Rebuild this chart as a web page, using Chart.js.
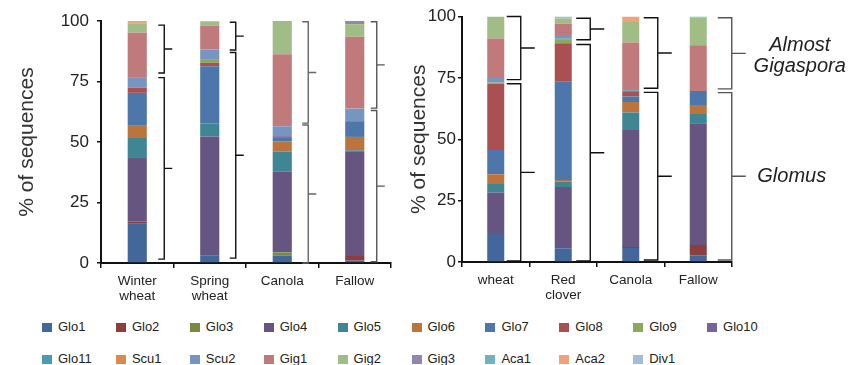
<!DOCTYPE html>
<html>
<head>
<meta charset="utf-8">
<script src="https://cdn.jsdelivr.net/npm/chart.js@4/dist/chart.umd.min.js"></script>
<style>
  html, body { margin: 0; padding: 0; background: #fff; }
  body { width: 852px; height: 365px; position: relative; overflow: hidden; font-family: "Liberation Sans", Arial, sans-serif; }
  #leftChart { position: absolute; left: 0; top: 0; }
  #rightChart { position: absolute; left: 395px; top: 0; }
  .lg-item { position: absolute; height: 16px; white-space: nowrap; }
  .lg-box { position: absolute; left: 0; top: 3px; width: 10px; height: 9px; }
  .lg-text { position: absolute; left: 16px; top: -1px; font-size: 13px; line-height: 16px; color: #222; }
</style>
</head>
<body>
<canvas id="leftChart" width="400" height="305"></canvas>
<canvas id="rightChart" width="457" height="305"></canvas>
<div id="legend"></div>
<script>
// ---- data ----
const seriesNames = ['Glo1', 'Glo2', 'Glo3', 'Glo4', 'Glo5', 'Glo6', 'Glo7', 'Glo8', 'Glo9', 'Glo10',
    'Glo11', 'Scu1', 'Scu2', 'Gig1', 'Gig2', 'Gig3', 'Aca1', 'Aca2', 'Div1'];
const seriesColors = ['#43679a', '#8c3d3e', '#768a40', '#655580', '#3f8695', '#bb743c', '#4d77ab', '#ab5052', '#8ca95b', '#78649b',
    '#4a9bb1', '#da8a4d', '#7695c0', '#c17a7b', '#a1bd86', '#9386ae', '#70b2c3', '#f1a17b', '#a7bad7'];

const leftCategories = [['Winter', 'wheat'], ['Spring', 'wheat'], 'Canola', 'Fallow'];
const rightCategories = ['wheat', ['Red', 'clover'], 'Canola', 'Fallow'];
const yTicks = [0, 25, 50, 75, 100];

// one row per series, one column per category (% of sequences)
const leftValues = [
    [16.2, 3.0, 3.0, 1.0],   // Glo1
    [0.8, 0, 0, 1.9],        // Glo2
    [0, 0, 1.4, 0],          // Glo3
    [26.4, 49.3, 33.3, 43.0],// Glo4
    [8.6, 5.2, 8.3, 0.7],    // Glo5
    [5.0, 0, 4.3, 5.5],      // Glo6
    [13.3, 23.8, 1.4, 6.5],  // Glo7
    [2.2, 1.4, 0, 0],        // Glo8
    [0, 1.2, 0, 0],          // Glo9
    [0, 0, 0.7, 0],          // Glo10
    [0, 0, 0, 0],            // Glo11
    [0, 0.4, 0, 0],          // Scu1
    [4.0, 3.9, 4.1, 5.2],    // Scu2
    [18.7, 9.9, 29.8, 29.7], // Gig1
    [3.9, 1.8, 13.7, 5.2],   // Gig2
    [0, 0, 0, 1.3],          // Gig3
    [0, 0, 0, 0],            // Aca1
    [1.0, 0, 0, 0],          // Aca2
    [0, 0, 0, 0]             // Div1
];
const rightValues = [
    [11.4, 5.6, 5.7, 2.7],   // Glo1
    [0, 0, 0.4, 4.2],        // Glo2
    [0, 0, 0, 0],            // Glo3
    [16.9, 25.0, 47.7, 49.6],// Glo4
    [3.5, 2.1, 7.1, 3.8],    // Glo5
    [3.9, 0.7, 4.3, 3.7],    // Glo6
    [9.9, 40.0, 2.2, 5.2],   // Glo7
    [27.0, 15.7, 1.8, 0],    // Glo8
    [0.5, 1.4, 0, 0],        // Glo9
    [0, 0, 0, 0.5],          // Glo10
    [0, 0.5, 0.8, 0],        // Glo11
    [0, 0, 0, 0],            // Scu1
    [1.8, 1.1, 0, 0],        // Scu2
    [16.1, 4.9, 19.4, 18.6], // Gig1
    [9.0, 2.2, 8.4, 11.3],   // Gig2
    [0, 0, 0, 0],            // Gig3
    [0, 0, 0, 0.4],          // Aca1
    [0, 0, 2.2, 0],          // Aca2
    [0, 0.8, 0, 0]           // Div1
];

// bracket spans [low, high] per category
const leftGigaspora = [[78.5, 98.3], [88.0, 99.5], [57.8, 99.7], [64.0, 99.7]];
const leftGlomus = [[1.6, 76.6], [2.0, 87.0], [0.0, 57.0], [0.5, 63.0]];
const rightGigaspora = [[74.3, 100], [90.5, 99.3], [70.8, 99.5], [70.5, 99.5]];
const rightGlomus = [[0.4, 72.6], [0.4, 88.6], [0.8, 69.1], [0.8, 69.0]];

// ---- shared styling ----
const fontFamily = '"Liberation Sans", Arial, sans-serif';
const axisColor = '#111';
const textColor = '#222';

const bracketPlugin = {
    id: 'brackets',
    afterDatasetsDraw(chart, args, opts) {
        const {ctx, scales: {x, y}} = chart;
        ctx.save();
        ctx.lineWidth = 1.4;
        opts.groups.forEach(spans => {
            spans.forEach((span, i) => {
                const bx = x.getPixelForValue(i) + opts.dx[i];
                const yTop = y.getPixelForValue(span[1]);
                const yBot = y.getPixelForValue(span[0]);
                const yMid = (yTop + yBot) / 2;
                ctx.strokeStyle = opts.colors[i];
                ctx.beginPath();
                ctx.moveTo(bx - opts.endLen, yTop);
                ctx.lineTo(bx, yTop);
                ctx.lineTo(bx, yBot);
                ctx.lineTo(bx - opts.endLen, yBot);
                ctx.moveTo(bx, yMid);
                ctx.lineTo(bx + opts.tickLen, yMid);
                ctx.stroke();
            });
        });
        // group names beside the last brackets
        (opts.labels || []).forEach(lb => {
            const span = opts.groups[lb.group][lb.cat];
            const bx = x.getPixelForValue(lb.cat) + opts.dx[lb.cat] + opts.tickLen;
            const yMid = (y.getPixelForValue(span[0]) + y.getPixelForValue(span[1])) / 2;
            ctx.fillStyle = textColor;
            ctx.font = 'italic 20px ' + fontFamily;
            ctx.textAlign = 'center';
            ctx.textBaseline = 'middle';
            const top = yMid + lb.dy - (lb.lines.length - 1) * 21 / 2;
            lb.lines.forEach((line, k) => ctx.fillText(line, bx + lb.dx, top + k * 21));
        });
        ctx.restore();
    }
};

function makeChart(canvasId, categories, values, barPct, yWidth, xHeight, padding, tickPad, titlePad, brackets) {
    const datasets = seriesNames.map((name, s) => ({
        label: name,
        data: values[s],
        backgroundColor: seriesColors[s],
        borderWidth: 0,
        barPercentage: barPct,
        categoryPercentage: 1.0
    }));
    return new Chart(document.getElementById(canvasId), {
        type: 'bar',
        data: {labels: categories, datasets: datasets},
        plugins: [bracketPlugin],
        options: {
            responsive: false,
            animation: false,
            devicePixelRatio: 1,
            layout: {padding: padding},
            plugins: {
                legend: {display: false},
                tooltip: {enabled: false},
                brackets: brackets
            },
            scales: {
                x: {
                    stacked: true,
                    afterFit: scale => { scale.height = xHeight; },
                    grid: {display: true, drawOnChartArea: false, drawTicks: true, tickLength: 5, color: axisColor, lineWidth: 1.5},
                    border: {display: true, color: axisColor, width: 2},
                    ticks: {color: textColor, padding: 6, maxRotation: 0, font: {family: fontFamily, size: 13.5, lineHeight: 1.1}}
                },
                y: {
                    stacked: true,
                    min: 0,
                    max: 100,
                    afterFit: scale => { scale.width = yWidth; },
                    afterBuildTicks: scale => { scale.ticks = yTicks.map(v => ({value: v})); },
                    grid: {display: true, drawOnChartArea: false, drawTicks: true, tickLength: 4, color: axisColor, lineWidth: 1.5},
                    border: {display: true, color: axisColor, width: 2},
                    ticks: {color: textColor, padding: tickPad, font: {family: fontFamily, size: 17}},
                    title: {display: true, text: '% of sequences', color: '#333', padding: titlePad, font: {family: fontFamily, size: 21}}
                }
            }
        }
    });
}

makeChart('leftChart', leftCategories, leftValues, 0.264, 101, 42,
    {left: 0, top: 21, right: 9, bottom: 0}, 8, {top: 15, bottom: 0},
    {
        groups: [leftGigaspora, leftGlomus],
        dx: [27, 26, 26, 22],
        endLen: 6,
        tickLen: 8,
        colors: ['#111', '#111', '#666', '#555']
    });

makeChart('rightChart', rightCategories, rightValues, 0.252, 67, 43,
    {left: 0, top: 16.5, right: 120, bottom: 0}, 2, {top: 12, bottom: 0},
    {
        groups: [rightGigaspora, rightGlomus],
        dx: [25, 27, 27, 33.5],
        endLen: 14,
        tickLen: 14,
        colors: ['#111', '#111', '#111', '#555'],
        labels: [
            {cat: 3, group: 0, lines: ['Almost', 'Gigaspora'], dx: 54, dy: 2.5},
            {cat: 3, group: 1, lines: ['Glomus'], dx: 46, dy: 0}
        ]
    });

// ---- shared legend ----
const legendEl = document.getElementById('legend');
seriesNames.forEach((name, i) => {
    const col = i % 10;
    const row = Math.floor(i / 10);
    const item = document.createElement('div');
    item.className = 'lg-item';
    item.style.left = (42 + col * 73.9) + 'px';
    item.style.top = (320 + row * 32) + 'px';
    item.innerHTML = '<span class="lg-box" style="background:' + seriesColors[i] + '"></span>' +
        '<span class="lg-text">' + name + '</span>';
    legendEl.appendChild(item);
});
</script>
</body>
</html>
